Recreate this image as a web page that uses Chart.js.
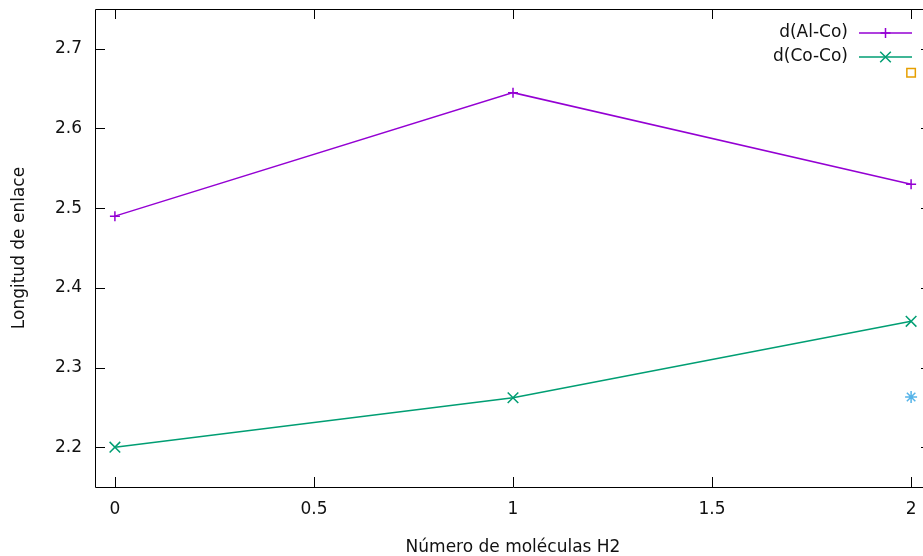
<!DOCTYPE html>
<html>
<head>
<meta charset="utf-8">
<script src="https://cdn.jsdelivr.net/npm/chart.js@4/dist/chart.umd.min.js"></script>
<style>
  html, body { margin: 0; padding: 0; background: #fff; overflow: hidden; }
  #wrap { width: 940px; height: 556px; }
</style>
</head>
<body>
<div id="wrap"><canvas id="c" width="940" height="556"></canvas></div>
<script>
// Número de moléculas de H2 adsorbidas
const nMoleculas = [0, 1, 2];
// Distancias de enlace
const dAlCo = [2.49, 2.645, 2.53];
const dCoCo = [2.20, 2.262, 2.358];
// Puntos sueltos en n = 2
const sueltosX = [2];
const sueltoCuadro = [2.67];
const sueltoEstrella = [2.263];
// Marcas de los ejes
const xTicks = [0, 0.5, 1, 1.5, 2];
const yTicks = [2.2, 2.3, 2.4, 2.5, 2.6, 2.7];

const FONT = 'DejaVu Sans';
const FS = 17;
const TXT = '#111';

const pts = (xs, ys) => xs.map((x, i) => ({ x: x, y: ys[i] }));

// Marco y marcas hacia dentro, al estilo gnuplot
const frame = {
  id: 'frame',
  afterDatasetsDraw(chart) {
    const { ctx, chartArea: a, scales } = chart;
    ctx.save();
    ctx.strokeStyle = '#000';
    ctx.lineWidth = 1;
    ctx.beginPath();
    ctx.rect(a.left + 0.5, a.top + 0.5, a.right - a.left, a.bottom - a.top);
    const L = 10;
    scales.y.ticks.forEach(t => {
      const y = Math.round(scales.y.getPixelForValue(t.value)) + 0.5;
      ctx.moveTo(a.left, y); ctx.lineTo(a.left + L, y);
      ctx.moveTo(a.right, y); ctx.lineTo(a.right - L, y);
    });
    scales.x.ticks.forEach(t => {
      const x = Math.round(scales.x.getPixelForValue(t.value)) + 0.5;
      ctx.moveTo(x, a.bottom); ctx.lineTo(x, a.bottom - L);
      ctx.moveTo(x, a.top); ctx.lineTo(x, a.top + L);
    });
    ctx.stroke();
    ctx.restore();
  }
};

// Leyenda: texto a la izquierda, muestra de línea y símbolo a la derecha
const leyenda = {
  id: 'leyenda',
  afterDraw(chart) {
    const { ctx } = chart;
    const textRight = 848, x0 = 859, x1 = 912, rows = [33, 57];
    ctx.save();
    ctx.font = FS + 'px "' + FONT + '"';
    ctx.textAlign = 'right';
    ctx.textBaseline = 'middle';
    [0, 1].forEach(i => {
      const ds = chart.data.datasets[i];
      const y = rows[i];
      ctx.fillStyle = TXT;
      ctx.fillText(ds.label, textRight, y);
      ctx.strokeStyle = ds.borderColor;
      ctx.lineWidth = ds.borderWidth;
      ctx.beginPath(); ctx.moveTo(x0, y); ctx.lineTo(x1, y); ctx.stroke();
      Chart.helpers.drawPoint(ctx, {
        pointStyle: ds.pointStyle, radius: ds.pointRadius, borderWidth: ds.pointBorderWidth, rotation: 0
      }, (x0 + x1) / 2, y);
    });
    ctx.restore();
  }
};

new Chart(document.getElementById('c'), {
  type: 'line',
  data: {
    datasets: [
      {
        label: 'd(Al-Co)', data: pts(nMoleculas, dAlCo),
        borderColor: '#9400d3', backgroundColor: '#9400d3', borderWidth: 1.5,
        pointStyle: 'cross', pointRadius: 5, pointBorderWidth: 1.5, pointBorderColor: '#9400d3',
        tension: 0, clip: false
      },
      {
        label: 'd(Co-Co)', data: pts(nMoleculas, dCoCo),
        borderColor: '#009e73', backgroundColor: '#009e73', borderWidth: 1.5,
        pointStyle: 'crossRot', pointRadius: 7.5, pointBorderWidth: 1.5, pointBorderColor: '#009e73',
        tension: 0, clip: false
      },
      {
        label: '', data: pts(sueltosX, sueltoEstrella), showLine: false,
        pointStyle: 'star', pointRadius: 6, pointBorderWidth: 1.5,
        pointBorderColor: '#56b4e9', pointBackgroundColor: '#56b4e9', clip: false
      },
      {
        label: '', data: pts(sueltosX, sueltoCuadro), showLine: false,
        pointStyle: 'rect', pointRadius: 6, pointBorderWidth: 1.5,
        pointBorderColor: '#e69f00', pointBackgroundColor: 'rgba(0,0,0,0)', clip: false
      }
    ]
  },
  options: {
    responsive: false,
    animation: false,
    devicePixelRatio: 1,
    layout: { padding: { top: 8, right: 8, left: 0, bottom: 0 } },
    plugins: { legend: { display: false }, tooltip: { enabled: false } },
    scales: {
      x: {
        type: 'linear', min: -0.05, max: 2.05,
        grid: { display: false, drawTicks: false }, border: { display: false },
        afterBuildTicks: s => { s.ticks = xTicks.map(v => ({ value: v })); },
        afterFit: s => { s.height = 69; s.paddingLeft = 0; s.paddingRight = 0; },
        ticks: { padding: 12, color: TXT, font: { family: FONT, size: FS }, maxRotation: 0,
                 callback: v => String(v) },
        title: { display: true, text: 'Número de moléculas H2', color: TXT,
                 font: { family: FONT, size: FS }, padding: { top: 0, bottom: -2 } }
      },
      y: {
        type: 'linear', min: 2.15, max: 2.75,
        grid: { display: false, drawTicks: false }, border: { display: false },
        afterBuildTicks: s => { s.ticks = yTicks.map(v => ({ value: v })); },
        afterFit: s => { s.width = 95; s.paddingTop = 0; s.paddingBottom = 0; },
        ticks: { padding: 13, color: TXT, font: { family: FONT, size: FS },
                 callback: v => v.toFixed(1) },
        title: { display: true, text: 'Longitud de enlace', color: TXT,
                 font: { family: FONT, size: FS }, padding: { top: 9, bottom: 0 } }
      }
    }
  },
  plugins: [frame, leyenda]
});
</script>
</body>
</html>
